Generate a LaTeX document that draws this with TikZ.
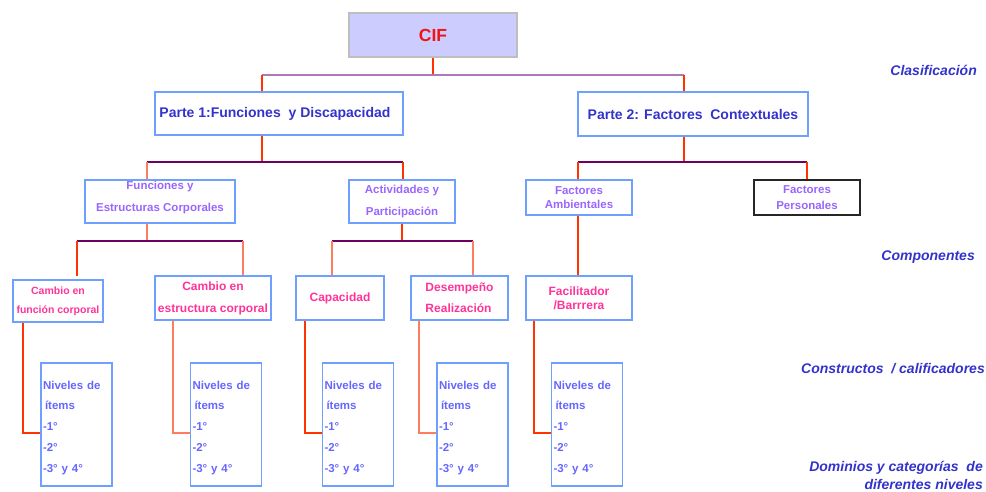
\documentclass[tikz,border=0pt]{standalone}
\usepackage{fontspec}
\setmainfont{Liberation Sans}
% font size helper: size, baseline skip, bold
\newcommand\myfs[2]{\fontsize{#1}{#2}\selectfont\bfseries}
% extra depth under a line, used to lift a text block inside its box
\newcommand\liftby[1]{\rule[-#1]{0pt}{1pt}}
% extra height over a line, used to lower a text block inside its box
\newcommand\dropto[1]{\rule{0pt}{#1}}
\definecolor{ciffill}{RGB}{204,204,255}
\definecolor{cifgray}{RGB}{190,190,190}
\definecolor{cifred}{RGB}{240,20,20}
\definecolor{boxblue}{RGB}{110,160,255}
\definecolor{darkblue}{RGB}{51,51,204}
\definecolor{lilac}{RGB}{153,102,255}
\definecolor{pinktxt}{RGB}{255,51,153}
\definecolor{nivtxt}{RGB}{102,102,255}
\definecolor{lnred}{RGB}{255,51,0}
\definecolor{lnsalmon}{RGB}{255,125,95}
\definecolor{hpurple}{RGB}{110,0,100}
\definecolor{hmauve}{RGB}{175,120,185}
\tikzset{
  box/.style={draw=boxblue, line width=1.2pt, inner sep=0pt, align=center},
  nivbox/.style={box, minimum width=71pt, minimum height=123pt, text width=67pt,
    inner xsep=2pt, align=left, text=nivtxt, font=\myfs{11.5}{20.75}},
  vred/.style={draw=lnred, line width=1.2pt},
  vsalmon/.style={draw=lnsalmon, line width=1.4pt},
  hline/.style={draw=hpurple, line width=1.2pt},
  levellabel/.style={anchor=base east, inner sep=0pt, text=darkblue,
    font=\fontsize{14}{18}\selectfont\bfseries\itshape, align=right}
}
\newcommand\nivtext{\dropto{14.5pt}Niveles de\\\hspace{2pt}ítems\\-1°\\-2°\\-3° y 4°}
\begin{document}
\begin{tikzpicture}[x=1pt,y=-1pt]
\useasboundingbox (0,0) rectangle (986,491);

% top of the tree
\node[box, draw=cifgray, fill=ciffill, minimum width=168pt, minimum height=44pt,
  text=cifred, font=\myfs{17.5}{20}] (cif) at (433,35) {CIF};
\node[box, minimum width=248pt, minimum height=43pt, text=darkblue, font=\myfs{14}{17}]
  (p1) at (279,113.5) {Parte 1:Funciones\ \ y Discapacidad\hspace{8pt}};
\node[box, minimum width=230pt, minimum height=44pt, text=darkblue, font=\myfs{14}{17}]
  (p2) at (693,114) {Parte 2: Factores\ \ Contextuales};

% components
\node[box, minimum width=150pt, minimum height=43pt, text=lilac, font=\myfs{11.5}{22}]
  (fe) at (160,201.5) {Funciones y\\Estructuras Corporales\liftby{10.5pt}};
\node[box, minimum width=106pt, minimum height=43pt, text=lilac, font=\myfs{11.5}{22}]
  (ap) at (402,201.5) {Actividades y\\Participación};
\node[box, minimum width=106pt, minimum height=35pt, text=lilac, font=\myfs{11.5}{14}]
  (fa) at (579,197.5) {Factores\\Ambientales};
\node[box, draw=black!85, minimum width=106pt, minimum height=35pt, text=lilac, font=\myfs{11.5}{16}]
  (fp) at (807,197.5) {Factores\\Personales};

% constructs
\node[box, minimum width=90pt, minimum height=42pt, text=pinktxt, font=\myfs{10.5}{19}]
  (cf) at (58,301) {Cambio en\\función corporal};
\node[box, minimum width=116pt, minimum height=44pt, text=pinktxt, font=\myfs{12}{22}]
  (ce) at (213,298) {Cambio en\\estructura corporal};
\node[box, minimum width=88pt, minimum height=44pt, text=pinktxt, font=\myfs{12}{14}]
  (cap) at (340,298) {Capacidad};
\node[box, minimum width=97pt, minimum height=44pt, text=pinktxt, font=\myfs{12}{21}, align=left]
  (des) at (459.5,298) {Desempeño\\Realización};
\node[box, minimum width=106pt, minimum height=44pt, text=pinktxt, font=\myfs{12}{14}]
  (fac) at (579,298) {Facilitador\\/Barrrera};

% item levels
\node[nivbox] (n1) at (76.5,424.5) {\nivtext};
\node[nivbox] (n2) at (226,424.5) {\nivtext};
\node[nivbox] (n3) at (358,424.5) {\nivtext};
\node[nivbox] (n4) at (472.5,424.5) {\nivtext};
\node[nivbox] (n5) at (587,424.5) {\nivtext};

% level captions on the right
\node[levellabel] (lclas) at (977,75) {Clasificación};
\node[levellabel] (lcomp) at (975,260) {Componentes};
\node[levellabel] (lcons) at (985,373) {Constructos\ \ / calificadores};
\node[levellabel] (ldom1) at (983,471) {Dominios y categorías\ \ de};
\node[levellabel] (ldom2) at (983,489) {diferentes niveles};

% CIF -> parts
\coordinate (j0) at (433,75);
\coordinate (t1) at (262,75);
\coordinate (t2) at (684,75);
\draw[vred] (cif.south) -- (j0);
\draw[draw=hmauve, line width=1.4pt] (t1) -- (t2);
\draw[vred] (t1) -- (t1 |- p1.north);
\draw[vred] (t2) -- (t2 |- p2.north);

% Parte 1 -> components
\coordinate (j1) at (262,162);
\coordinate (a1) at (147,162);
\coordinate (a2) at (403,162);
\draw[vred] (j1 |- p1.south) -- (j1);
\draw[hline] (a1) -- (a2);
\draw[vsalmon] (a1) -- (a1 |- fe.north);
\draw[vred] (a2) -- (a2 |- ap.north);

% Parte 2 -> components
\coordinate (j2) at (684,162);
\coordinate (b1) at (578,162);
\coordinate (b2) at (807,162);
\draw[vred] (j2 |- p2.south) -- (j2);
\draw[hline] (b1) -- (b2);
\draw[vred] (b1) -- (b1 |- fa.north);
\draw[vred] (b2) -- (b2 |- fp.north);

% body functions and structures -> changes
\coordinate (j3) at (147,241);
\coordinate (c1) at (77,241);
\coordinate (c2) at (243,241);
\draw[vsalmon] (j3 |- fe.south) -- (j3);
\draw[hline] (c1) -- (c2);
\draw[vred] (c1) -- (77,276);
\draw[vsalmon] (c2) -- (c2 |- ce.north);

% activities -> capacity / performance
\coordinate (j4) at (402,241);
\coordinate (d1) at (332,241);
\coordinate (d2) at (473,241);
\draw[vred] (j4 |- ap.south) -- (j4);
\draw[hline] (d1) -- (d2);
\draw[vsalmon] (d1) -- (d1 |- cap.north);
\draw[vsalmon] (d2) -- (d2 |- des.north);

% environmental factors -> facilitator
\coordinate (f1) at (578,0);
\draw[vred] (f1 |- fa.south) -- (f1 |- fac.north);

% constructs -> item levels
\coordinate (e1) at (23,433);
\coordinate (e2) at (173,433);
\coordinate (e3) at (305,433);
\coordinate (e4) at (419,433);
\coordinate (e5) at (534,433);
\draw[vred] (e1 |- cf.south) -- (e1) -- (e1 -| n1.west);
\draw[vsalmon] (e2 |- ce.south) -- (e2) -- (e2 -| n2.west);
\draw[vred] (e3 |- cap.south) -- (e3) -- (e3 -| n3.west);
\draw[vsalmon] (e4 |- des.south) -- (e4) -- (e4 -| n4.west);
\draw[vred] (e5 |- fac.south) -- (e5) -- (e5 -| n5.west);
\end{tikzpicture}
\end{document}
